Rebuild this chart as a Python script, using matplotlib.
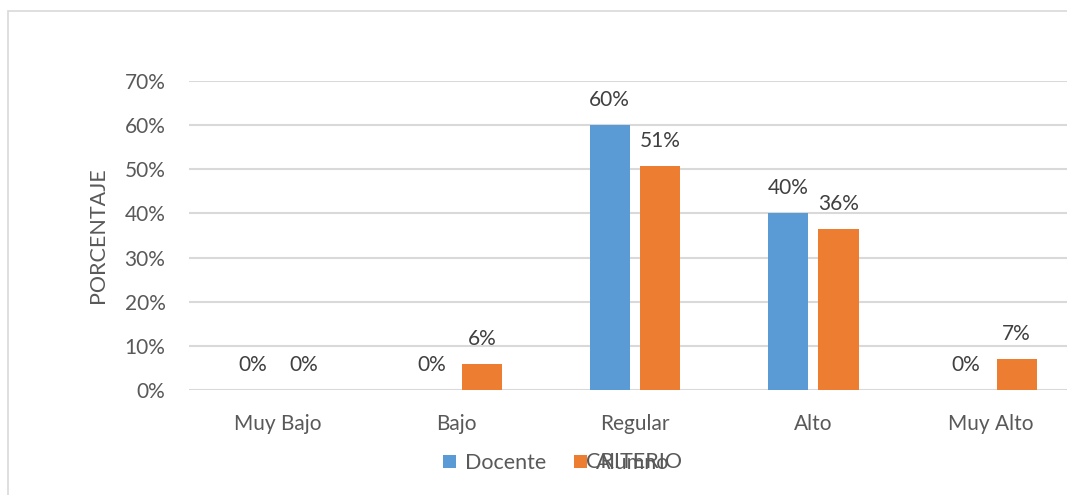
import matplotlib.pyplot as plt
from matplotlib.patches import Rectangle
import numpy as np

categorias = ['Muy Bajo', 'Bajo', 'Regular', 'Alto', 'Muy Alto']
docente = [0, 0, 60, 40, 0]
alumno = [0, 5.9, 50.7, 36.4, 7.0]
etiquetas_docente = ['0%', '0%', '60%', '40%', '0%']
etiquetas_alumno = ['0%', '6%', '51%', '36%', '7%']

plt.rcParams['font.family'] = ['Lato', 'DejaVu Sans']
gris = '#595959'

fig = plt.figure(figsize=(10.67, 4.95), dpi=100)
# marco del grafico (recortado a la derecha y abajo)
fig.patches.append(Rectangle((8 / 1067, -0.1), 1.1, 1 - 11 / 495 + 0.1,
                             transform=fig.transFigure, fill=False,
                             edgecolor='#d9d9d9', linewidth=1.2))

ax = fig.add_axes([189 / 1067, 1 - 390 / 495, (1080 - 189) / 1067, (390 - 81) / 495])

x = np.arange(len(categorias))
w = 0.225
b1 = ax.bar(x - 0.14, docente, w, color='#5B9BD5', label='Docente', zorder=3)
b2 = ax.bar(x + 0.145, alumno, w, color='#ED7D31', label='Alumno', zorder=3)

for bars, labs in ((b1, etiquetas_docente), (b2, etiquetas_alumno)):
    for r, t in zip(bars, labs):
        ax.annotate(t, (r.get_x() + r.get_width() / 2, r.get_height()),
                    xytext=(0, 18), textcoords='offset points',
                    ha='center', va='center', fontsize=15, color='#404040')

ax.set_xlim(-0.5, 4.5)
ax.set_ylim(0, 70)
ax.set_yticks(range(0, 71, 10))
ax.set_yticklabels([f'{v}%' for v in range(0, 71, 10)])
ax.set_xticks(x)
ax.set_xticklabels(categorias)
ax.grid(axis='y', color='#d9d9d9', linewidth=1.5, zorder=0)
ax.tick_params(length=0, labelsize=15, labelcolor=gris)
ax.tick_params(axis='y', pad=17)
ax.tick_params(axis='x', pad=17)
for s in ax.spines.values():
    s.set_visible(False)

ax.set_ylabel('PORCENTAJE', fontsize=15.5, color=gris, labelpad=12)
fig.text(634 / 1067, 1 - 462 / 495, 'CRITERIO', ha='center', va='center',
         fontsize=15.5, color=gris)

fig.legend(handles=[b1, b2], loc='center', bbox_to_anchor=(556 / 1067, 1 - 463 / 495),
           ncol=2, frameon=False, fontsize=15.5, labelcolor=gris,
           handlelength=0.6, handleheight=0.6, handletextpad=0.4, columnspacing=1.3)

fig.savefig('out.png', dpi=100)
